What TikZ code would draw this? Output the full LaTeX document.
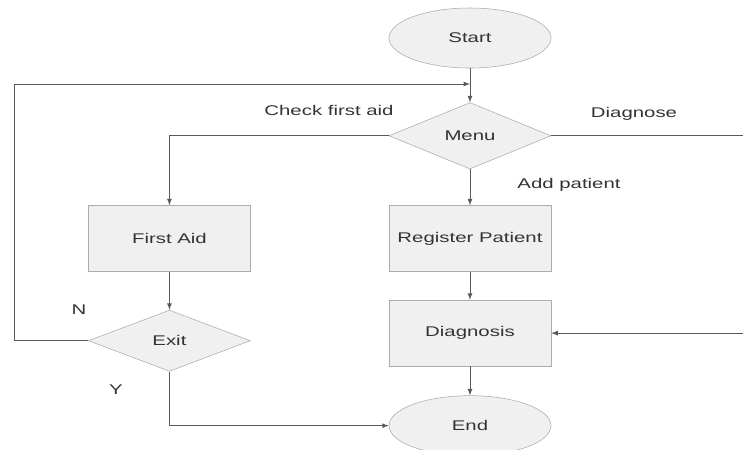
\documentclass[tikz,border=0pt]{standalone}
\usepackage{fontspec}
\setmainfont[FakeStretch=1.45]{Liberation Sans}
\usepackage{tikz}
\usetikzlibrary{positioning}
\usetikzlibrary{shapes.geometric}
\colorlet{boxfill}{gray!12}
\colorlet{boxline}{gray!65}
\colorlet{flowline}{black!65}
\tikzset{
  every node/.append style={font=\fontsize{10}{12}\selectfont,text=black!80},
  term/.style={ellipse,draw=boxline,fill=boxfill,minimum width=4.05cm,
    minimum height=1.5cm},
  proc/.style={rectangle,draw=boxline,fill=boxfill,minimum width=4.05cm,
    minimum height=1.65cm},
  choice/.style={diamond,draw=boxline,fill=boxfill,minimum width=4.05cm,
    minimum height=1.53cm,inner sep=1pt},
  flow/.style={-latex,flowline,semithick},
  note/.style={inner sep=1pt}
}
\begin{document}
\begin{tikzpicture}
      \useasboundingbox (0,0) rectangle (18.575,-11.25);
      \node (start) at (11.75,-0.95) [term] {Start};
      \node (menu) [choice,below=0.85cm of start] {Menu};
      \node (reg) [proc,below=0.9cm of menu] {Register Patient};
      \node (diag) [proc,below=0.7cm of reg] {Diagnosis};
      \node (end) [term,below=0.725cm of diag] {End};
      \node (aid) [proc,left=3.45cm of reg] {First Aid};
      \node (exit) [choice,below=0.95cm of aid] {Exit};
      % loop back and right-hand branch corners
      \coordinate (lp) at (0.35,-2.1);
      \coordinate (join) at (start |- lp);
      \coordinate (rt) at (19.2,0 |- menu);
      % labels
      \node at (8.225,-2.75) [note] {Check first aid};
      \node at (15.85,-2.85) [note] {Diagnose};
      \node at (14.225,-4.625) [note] {Add patient};
      \node at (1.975,-7.75) [note] {N};
      \node at (2.9,-9.75) [note] {Y};
      % connectors
      \draw[flow] (start) -- (menu);
      \draw[flow] (menu) -- (reg);
      \draw[flow] (menu.west) -| (aid.north);
      \draw[flow] (menu.east) -- (rt) |- (diag.east);
      \draw[flow] (reg) -- (diag);
      \draw[flow] (diag) -- (end);
      \draw[flow] (aid) -- (exit);
      \draw[flow] (exit.west) -| (lp) -- (join);
      \draw[flow] (exit.south) |- (end.west);
    \end{tikzpicture}
\end{document}
